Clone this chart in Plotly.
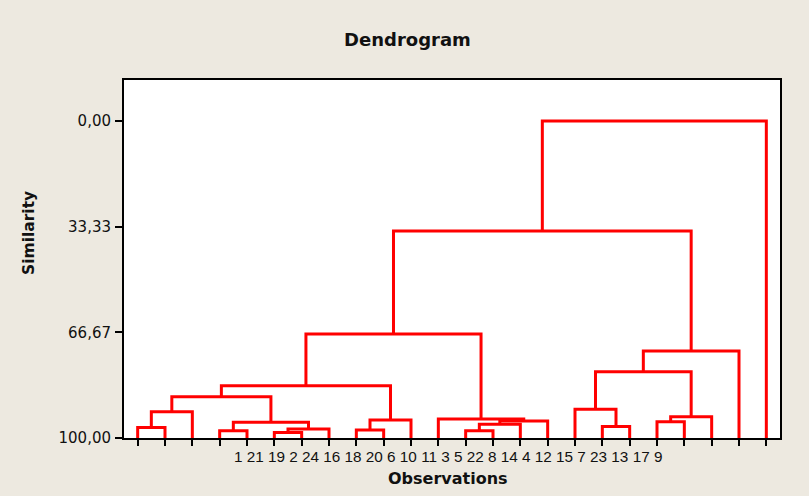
import plotly.graph_objects as go

# ---- data ----
leaf_labels = ["1", "21", "19", "2", "24", "16", "18", "20", "6", "10", "11", "3",
               "5", "22", "8", "14", "4", "12", "15", "7", "23", "13", "17", "9"]
n_leaves = 24
# merges: (left child, right child, similarity); children <= 24 are leaf positions (1-based),
# "m<k>" refers to the k-th merge (1-based)
merge_left = [1, "m1", 4, 6, "m4", "m3", "m2", 9, "m8", "m7", 13, "m11", "m12", 12,
              "m10", 18, 17, 20, "m18", "m17", "m20", "m15", "m22"]
merge_right = [2, 3, 5, 7, 8, "m5", "m6", 10, 11, "m9", 14, 15, 16, "m13",
               "m14", 19, "m16", 21, 22, "m19", 23, "m21", 24]
merge_sim = [96.7, 91.7, 97.7, 98.3, 97.2, 95.0, 87.0, 97.5, 94.3, 83.5, 97.7, 95.7, 94.6, 94.0,
             67.2, 96.4, 90.9, 94.9, 93.3, 79.1, 72.6, 34.7, 0.0]
y_tickvals = [0, 33.33, 66.67, 100]
y_ticktext = ["0,00", "33,33", "66,67", "100,00"]

# ---- build dendrogram segments ----
node_pos = {}


def pos(c):
    if isinstance(c, str):
        return node_pos[c]
    return (float(c), 100.0)


xs, ys = [], []
for i, (a, b, h) in enumerate(zip(merge_left, merge_right, merge_sim)):
    xa, ya = pos(a)
    xb, yb = pos(b)
    xs += [xa, xa, xb, xb, None]
    ys += [ya, h, h, yb, None]
    node_pos["m%d" % (i + 1)] = ((xa + xb) / 2, h)

BG = "#EDE9E0"
TXT = "#111111"
fig = go.Figure()
fig.add_trace(go.Scatter(x=xs, y=ys, mode="lines",
                         line=dict(color="#FF0000", width=3),
                         hoverinfo="skip", showlegend=False, cliponaxis=False))

fig.update_layout(
    width=809, height=496,
    paper_bgcolor=BG, plot_bgcolor="white",
    margin=dict(l=124, r=29, t=80, b=58),
    showlegend=False,
    title=dict(text="<b>Dendrogram</b>", x=407.5 / 809, xanchor="center", y=1 - 40 / 496,
               yanchor="middle", font=dict(family="DejaVu Sans", size=18, color=TXT)),
    xaxis=dict(range=[0.5, n_leaves + 0.5], tickvals=list(range(1, n_leaves + 1)),
               ticktext=[""] * n_leaves, ticks="outside", ticklen=6, tickwidth=2,
               tickcolor="black", showline=True, linewidth=2, linecolor="black",
               mirror=True, showgrid=False, zeroline=False, fixedrange=True),
    yaxis=dict(range=[100, -12.9], tickvals=y_tickvals, ticktext=y_ticktext,
               ticks="outside", ticklen=7, tickwidth=2, tickcolor="black",
               ticklabelstandoff=1,
               showline=True, linewidth=2, linecolor="black", mirror=True,
               showgrid=False, zeroline=False,
               tickfont=dict(family="DejaVu Sans", size=15, color=TXT), fixedrange=True),
)

fig.add_annotation(text=" ".join(leaf_labels), xref="paper", yref="paper",
                   x=0.494, y=0, xanchor="center", yanchor="top", yshift=-8,
                   showarrow=False, font=dict(family="Liberation Sans", size=15.3, color=TXT))
fig.add_annotation(text="<b>Observations</b>", xref="paper", yref="paper",
                   x=0.494, y=0, xanchor="center", yanchor="top", yshift=-29,
                   showarrow=False, font=dict(family="DejaVu Sans", size=16, color=TXT))
fig.add_annotation(text="<b>Similarity</b>", xref="paper", yref="paper",
                   x=-(124 - 29) / 656, y=(438 - 233) / 358, xanchor="center", yanchor="middle",
                   textangle=-90, showarrow=False,
                   font=dict(family="DejaVu Sans", size=15.5, color=TXT))

fig.write_html("out.html",
               config={"displayModeBar": False},
               post_script="document.body.style.margin='0';"
                           "document.body.style.background='%s';" % BG)
